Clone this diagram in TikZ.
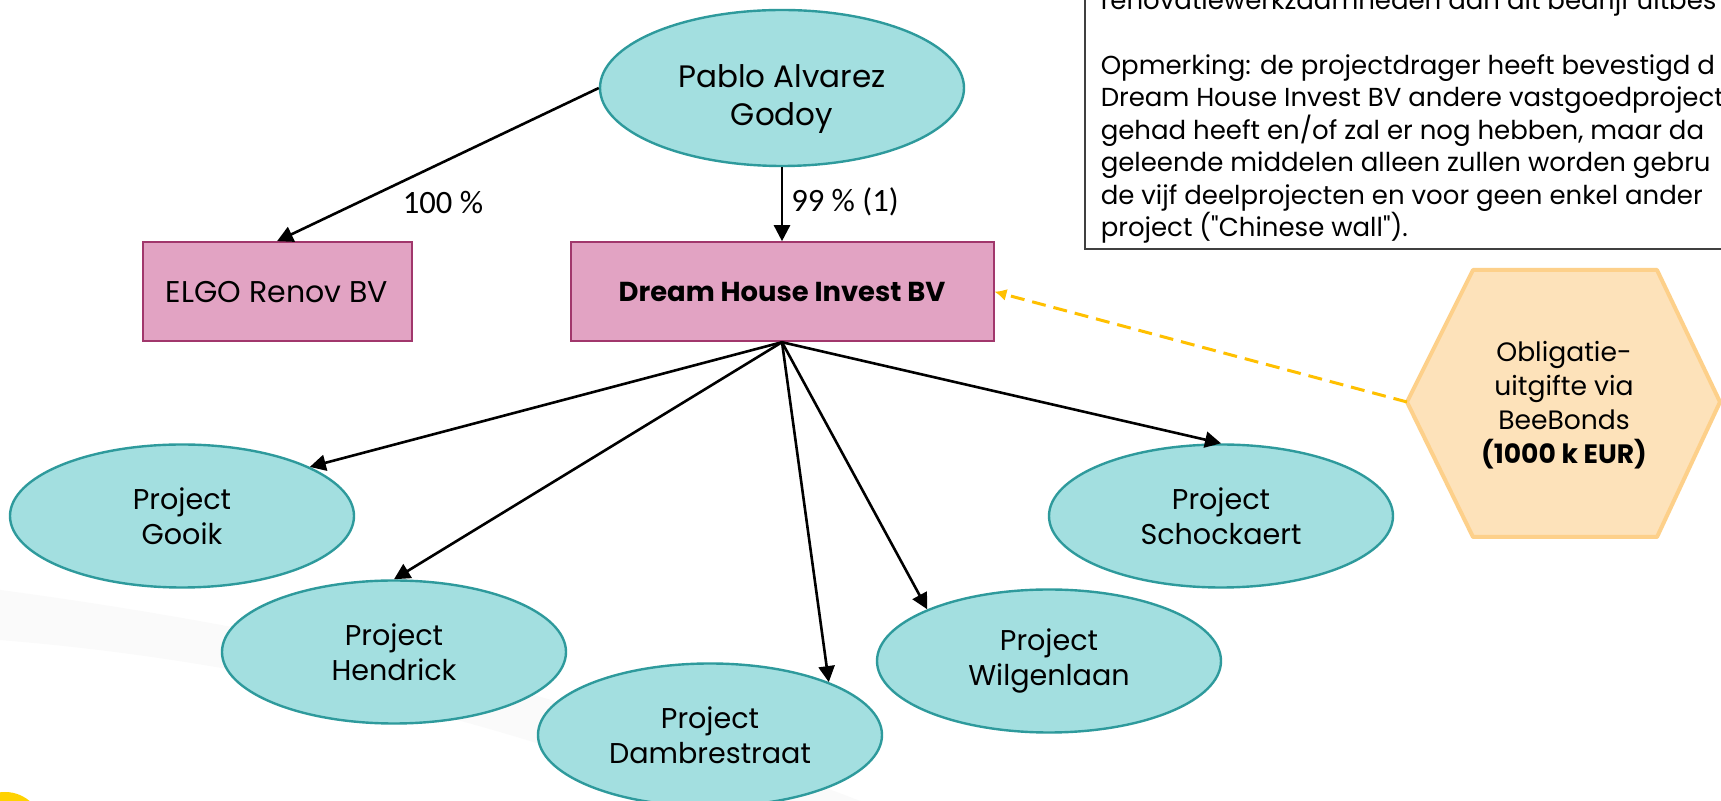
\documentclass[tikz,border=0pt]{standalone}
\usepackage{fontspec}
\setmainfont{Poppins}
\newfontfamily\calibrifont{Carlito}
\usepackage{tikz}
\usetikzlibrary{arrows.meta, positioning, shapes.geometric}

\definecolor{tealfill}{HTML}{A3DFE0}
\definecolor{tealline}{HTML}{2E9A9C}
\definecolor{pinkfill}{HTML}{E2A3C3}
\definecolor{pinkline}{HTML}{A1376C}
\definecolor{hexfill}{HTML}{FDE2BA}
\definecolor{hexline}{HTML}{FDD08A}
\definecolor{gold}{HTML}{FFC000}
\definecolor{noteline}{HTML}{404040}
\definecolor{slidedot}{HTML}{FFD200}

\begin{document}
\begin{tikzpicture}[x=0.5pt, y=-0.5pt,
	owner/.style={ellipse, draw=tealline, fill=tealfill, line width=1.2pt, minimum width=182pt, minimum height=78pt, inner sep=0pt, align=center, font=\fontsize{15.5}{19}\selectfont},
	project/.style={ellipse, draw=tealline, fill=tealfill, line width=1.2pt, minimum width=172pt, minimum height=71.5pt, inner sep=0pt, align=center, font=\fontsize{14.3}{17.5}\selectfont},
	company/.style={rectangle, draw=pinkline, fill=pinkfill, line width=1pt, minimum height=49.5pt, inner sep=0pt},
	share/.style={inner sep=0pt, font=\calibrifont\fontsize{16.3}{19}\selectfont},
	link/.style={-{Triangle[length=8pt,width=8pt]}, line width=1.3pt},
	funding/.style={-{Latex[length=6pt,width=6pt]}, draw=gold, line width=1.5pt, dash pattern=on 7pt off 4pt}]
		\useasboundingbox (0,0) rectangle (1721,801);
		\clip (0,0) rectangle (1721,801);
		\fill[white] (0,0) rectangle (1721,801);
		\fill[black!2] (0,590) .. controls (300,630) and (600,700) .. (860,801) -- (700,801) .. controls (500,720) and (250,660) .. (0,640) -- cycle;
		\fill[slidedot] (5,830) circle (38);
		
		% Define nodes (owner, companies and projects)
		\node[owner] (pablo) at (782,88) {\rule{0pt}{22.5pt}Pablo Alvarez\\Godoy};
		\node[company, minimum width=211.5pt, font=\fontsize{13.7}{17}\selectfont\bfseries] (dream) [below=37pt of pablo] {Dream House Invest BV};
		\node[company, minimum width=134.5pt, font=\fontsize{15}{18}\selectfont] (elgo) [left=78.5pt of dream] {ELGO Renov BV};
		
		\node[project] (gooik) at (182,516) {Project\\Gooik};
		\node[project] (hendrick) at (394,652) {Project\\Hendrick};
		\node[project] (dambre) at (710,735) {Project\\Dambrestraat};
		\node[project] (wilgen) at (1049,661) {Project\\Wilgenlaan};
		\node[project] (schock) at (1221,516) {Project\\Schockaert};
		
		% Bond issue
		\draw[hexline, fill=hexfill, line width=2pt, line join=round] (1407,402) -- (1473,270) -- (1657,270) -- (1720,402) -- (1657,537) -- (1473,537) -- cycle;
		\coordinate (bondtip) at (1407,402);
		\node[align=center, font=\fontsize{13.3}{17}\selectfont] (bond) at (1564,405) {Obligatie-\\uitgifte via\\BeeBonds\\\textbf{(1000 k EUR)}};
		
		% Remark
		\node[draw=noteline, fill=white, line width=0.75pt, anchor=south west, align=left, inner xsep=8pt, inner ysep=3pt, font=\fontsize{13}{16.2}\selectfont] (note) at (1084,250) {renovatiewerkzaamheden dan dit bedrijf uitbes\\[16.2pt]Opmerking: de projectdrager heeft bevestigd d\\Dream House Invest BV andere vastgoedproject\\gehad heeft en/of zal er nog hebben, maar da\\geleende middelen alleen zullen worden gebru\\de vijf deelprojecten en voor geen enkel ander\\project (\textquotedbl Chinese wall\textquotedbl).};
		
		% Draw connections
		\draw[link] (pablo.west) -- (elgo.north);
		\draw[link] (pablo) -- node[share, pos=0.47, anchor=west, xshift=4pt] {99 \% (1)} (dream);
		\node[share] (pct) at (443,203) {100 \%};
		\draw[link] (dream.south) -- (gooik.21);
		\draw[link] (dream.south) -- (hendrick.north);
		\draw[link] (dream.south) -- (dambre.24);
		\draw[link] (dream.south) -- (wilgen.157);
		\draw[link] (dream.south) -- (schock.north);
		\draw[funding] (bondtip) -- (dream.east);
	\end{tikzpicture}
\end{document}
